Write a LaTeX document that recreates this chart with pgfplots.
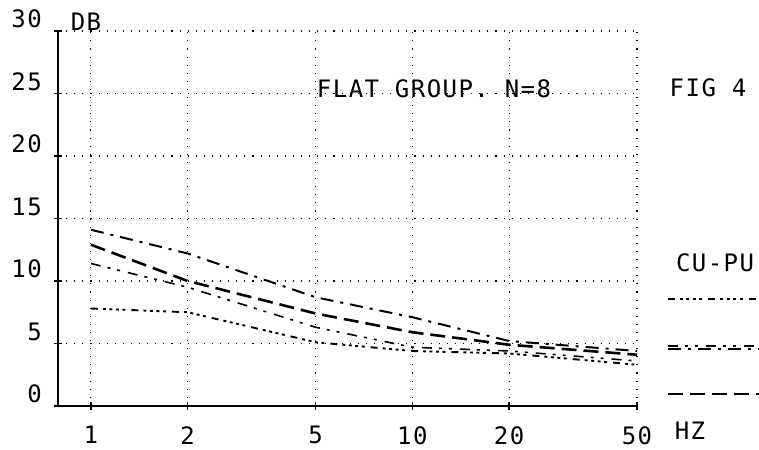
\documentclass[border=0pt]{standalone}
\usepackage{fontspec}
\usepackage{pgfplots}
\pgfplotsset{compat=1.18}
\setmainfont{DejaVu Sans Mono}[LetterSpace=6]
\begin{document}
\begin{tikzpicture}[x=1bp,y=1bp]
\useasboundingbox (0,0) rectangle (759,450);
\begin{axis}[
  at={(58bp,44bp)}, anchor=south west,
  scale only axis, width=579bp, height=375bp,
  xmode=log, xmin=0.79, xmax=50, ymin=0, ymax=30,
  axis lines=left, axis line style={-, line width=1.8bp, black},
  xtick={1,2,5,10,20,50}, xticklabels={1,2,5,10,20,50},
  minor xtick={},
  ytick={0,5,10,15,20,25,30},
  /pgf/number format/assume math mode=true,
  tick align=center, major tick length=8bp,
  tick style={line width=1.3bp, black},
  grid=major,
  major grid style={black, line width=1.1bp, dash pattern=on 1.1bp off 7bp},
  ticklabel style={font=\fontsize{24bp}{26bp}\selectfont},
  yticklabel style={anchor=base east, inner sep=0pt, xshift=-12bp, yshift=3bp},
  xticklabel style={anchor=north, inner sep=0pt, yshift=-16bp},
  clip=false,
]
% A: dash-dot (top)
\addplot[black, line width=2bp, dash pattern=on 13bp off 7bp on 3bp off 7bp]
  coordinates {(1,14.1) (2,12.2) (5,8.7) (10,7.1) (20,5.2) (50,4.4)};
% B: long dash
\addplot[black, line width=2.6bp, dash pattern=on 15bp off 7bp]
  coordinates {(1,12.9) (2,10.0) (5,7.4) (10,5.9) (20,4.9) (50,4.1)};
% C: dash-dot-dot
\addplot[black, line width=1.6bp, dash pattern=on 10bp off 7bp on 3bp off 7bp on 3bp off 8bp]
  coordinates {(1,11.4) (2,9.5) (5,6.3) (10,4.7) (20,4.4) (50,3.6)};
% D: dash with four dots (bottom)
\addplot[black, line width=1.9bp, dash pattern=on 7bp off 5bp on 3bp off 3.5bp on 3bp off 3.5bp on 3bp off 3.5bp on 3bp off 6bp]
  coordinates {(1,7.8) (2,7.5) (5,5.1) (10,4.4) (20,4.2) (50,3.3)};
% legend samples
\addplot[forget plot, black, line width=1.9bp, dash pattern=on 7bp off 5bp on 3bp off 3.5bp on 3bp off 3.5bp on 3bp off 3.5bp on 3bp off 6bp]
  coordinates {(62.4,8.56) (119.8,8.56)};
\addplot[forget plot, black, line width=1.6bp, dash pattern=on 10bp off 7bp on 3bp off 7bp on 3bp off 8bp]
  coordinates {(62.4,4.82) (119.8,4.82)};
\addplot[forget plot, black, line width=2bp, dash pattern=on 13bp off 7bp on 3bp off 7bp]
  coordinates {(62.4,4.58) (119.8,4.58)};
\addplot[forget plot, black, line width=2.6bp, dash pattern=on 15bp off 7bp]
  coordinates {(62.4,0.96) (119.8,0.96)};
\end{axis}
\begin{scope}[every node/.style={font=\fontsize{24bp}{26bp}\selectfont, inner sep=0pt}]
\node at (86,428) {DB};
\node at (434,361.5) {FLAT GROUP. N=8};
\node at (708,362) {FIG 4};
\node at (715,187) {CU-PU};
\node[anchor=north] at (690,28) {HZ};
\end{scope}
\end{tikzpicture}
\end{document}
